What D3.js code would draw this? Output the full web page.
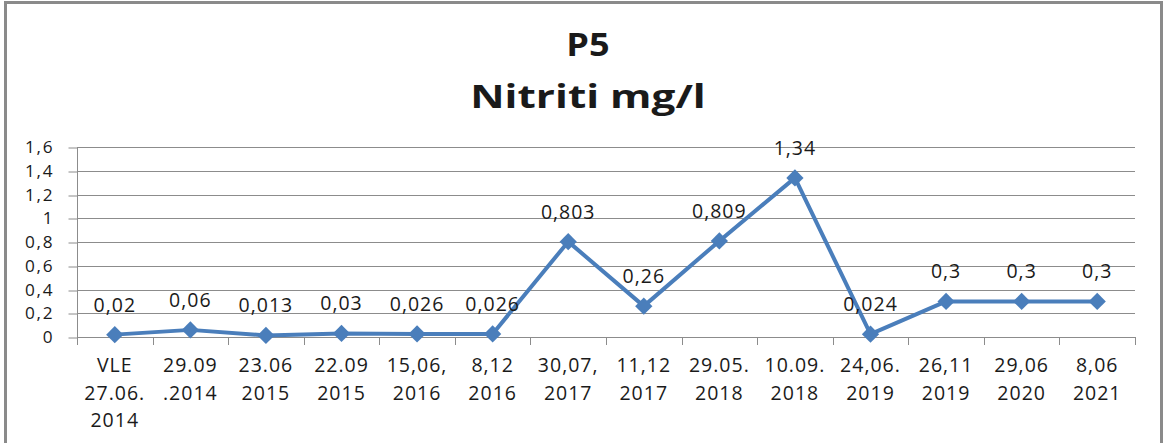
<!DOCTYPE html>
<html>
<head>
<meta charset="utf-8">
<script src="https://cdn.jsdelivr.net/npm/d3@7"></script>
<style>
  html, body { margin: 0; padding: 0; background: #fff; }
  svg { display: block; }
  text { font-family: "Open Sans", "Noto Sans", sans-serif; fill: #1a1a1a; }
</style>
</head>
<body>
<svg id="chart" width="1165" height="443"></svg>
<script>
// Sampling dates (multi-line labels) and nitrite concentration in mg/l
const categories = [
  ["VLE", "27.06.", "2014"],
  ["29.09", ".2014"],
  ["23.06", "2015"],
  ["22.09", "2015"],
  ["15,06,", "2016"],
  ["8,12", "2016"],
  ["30,07,", "2017"],
  ["11,12", "2017"],
  ["29.05.", "2018"],
  ["10.09.", "2018"],
  ["24,06.", "2019"],
  ["26,11", "2019"],
  ["29,06", "2020"],
  ["8,06", "2021"]
];
const values = [0.02, 0.06, 0.013, 0.03, 0.026, 0.026, 0.803, 0.26, 0.809, 1.34, 0.024, 0.3, 0.3, 0.3];
const valueLabels = ["0,02", "0,06", "0,013", "0,03", "0,026", "0,026", "0,803", "0,26", "0,809", "1,34", "0,024", "0,3", "0,3", "0,3"];
const yTicks = [0, 0.2, 0.4, 0.6, 0.8, 1, 1.2, 1.4, 1.6];
const titleLines = ["P5", "Nitriti mg/l"];

const svg = d3.select("#chart");
const plot = { left: 77, right: 1135, top: 147, bottom: 337 };
const lineColor = "#4A7EBB";
const gridColor = "#8c8c8c";
const labelSize = 19.5;
const labelSpacing = 1;

// Outer chart frame
svg.append("rect")
  .attr("x", 5.5).attr("y", 2.5)
  .attr("width", 1156).attr("height", 460)
  .attr("fill", "none").attr("stroke", "#8a8a8a").attr("stroke-width", 3);

// Title, slightly widened horizontally
const titleStretch = [1.13, 1.32];
svg.append("g").selectAll("text").data(titleLines).join("text")
  .attr("transform", (d, i) => `translate(588,${56 + i * 52}) scale(${titleStretch[i]},1)`)
  .attr("text-anchor", "middle")
  .attr("font-size", 32).attr("font-weight", "bold")
  .text(d => d);

const x = d3.scaleBand().domain(d3.range(categories.length))
  .range([plot.left, plot.right]).padding(0);
const y = d3.scaleLinear().domain([0, 1.6]).range([plot.bottom, plot.top]);

// Horizontal gridlines
svg.append("g").selectAll("line").data(yTicks).join("line")
  .attr("x1", plot.left).attr("x2", plot.right)
  .attr("y1", d => Math.round(y(d)) + 0.5).attr("y2", d => Math.round(y(d)) + 0.5)
  .attr("stroke", gridColor).attr("stroke-width", 1);

// Y axis
const yAxis = svg.append("g")
  .attr("transform", `translate(${plot.left + 0.5},0)`)
  .call(d3.axisLeft(y).tickValues(yTicks).tickSize(9).tickPadding(14)
    .tickFormat(d => String(d).replace(".", ",")));
yAxis.select(".domain").attr("stroke", gridColor).attr("d", `M0,${plot.top}V${plot.bottom}`);
yAxis.selectAll(".tick line").attr("stroke", gridColor)
  .attr("transform", d => `translate(0,${Math.round(y(d)) + 0.5 - y(d)})`);
yAxis.selectAll(".tick text")
  .attr("font-size", 17.2).attr("fill", "#1a1a1a")
  .attr("letter-spacing", 1.8)
  .attr("font-family", "'Open Sans', sans-serif");

// X axis baseline with ticks at category boundaries
const xg = svg.append("g");
xg.append("line")
  .attr("x1", plot.left).attr("x2", plot.right)
  .attr("y1", plot.bottom + 0.5).attr("y2", plot.bottom + 0.5)
  .attr("stroke", gridColor);
xg.selectAll("line.tick").data(d3.range(categories.length + 1)).join("line")
  .attr("class", "tick")
  .attr("x1", i => Math.round(plot.left + i * x.bandwidth()) + 0.5)
  .attr("x2", i => Math.round(plot.left + i * x.bandwidth()) + 0.5)
  .attr("y1", plot.bottom).attr("y2", plot.bottom + 8)
  .attr("stroke", gridColor);

// Category labels
const cx = i => x(i) + x.bandwidth() / 2;
xg.selectAll("text.cat").data(categories).join("text")
  .attr("class", "cat")
  .attr("text-anchor", "middle")
  .attr("font-size", labelSize)
  .attr("letter-spacing", labelSpacing)
  .each(function (lines, i) {
    d3.select(this).selectAll("tspan").data(lines).join("tspan")
      .attr("x", cx(i)).attr("y", (d, j) => 372 + j * 27.5)
      .text(d => d);
  });

// Series line
svg.append("path").datum(values)
  .attr("fill", "none").attr("stroke", lineColor)
  .attr("stroke-width", 4).attr("stroke-linejoin", "round")
  .attr("d", d3.line().x((d, i) => cx(i)).y(d => y(d)));

// Diamond markers
svg.append("g").selectAll("path").data(values).join("path")
  .attr("transform", (d, i) => `translate(${cx(i)},${y(d)})`)
  .attr("d", d3.symbol(d3.symbolDiamond2, 190)())
  .attr("fill", lineColor);

// Value labels
svg.append("g").selectAll("text").data(values).join("text")
  .attr("x", (d, i) => cx(i)).attr("y", d => y(d) - 23)
  .attr("text-anchor", "middle").attr("font-size", labelSize)
  .attr("letter-spacing", labelSpacing)
  .text((d, i) => valueLabels[i]);
</script>
</body>
</html>
